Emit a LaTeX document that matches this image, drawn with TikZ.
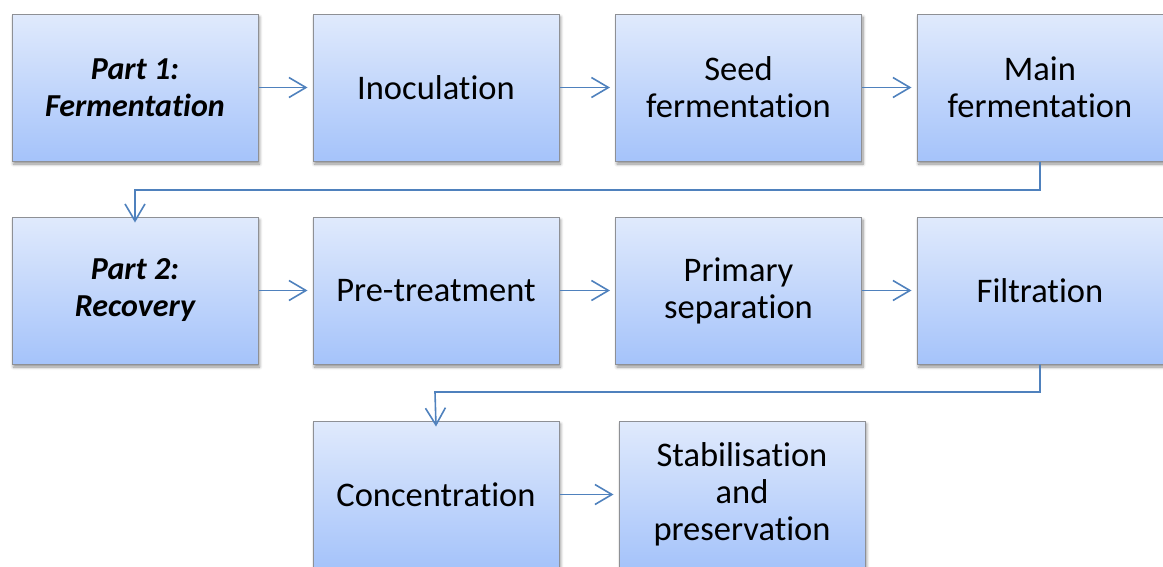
\documentclass[tikz,border=0pt]{standalone}
\usepackage{fontspec}
\setmainfont[RawFeature=-liga]{Carlito}
\usetikzlibrary{arrows.meta,shadows.blur}
\definecolor{boxtop}{HTML}{E0EAFC}
\definecolor{boxbot}{HTML}{A5C3FA}
\definecolor{boxline}{HTML}{8E9095}
\definecolor{arrowc}{HTML}{4F81BD}
\tikzset{
  stepbox/.style={draw=boxline, line width=1pt, top color=boxtop, bottom color=boxbot,
    minimum width=246pt, minimum height=147pt, inner sep=0pt, align=center,
    font=\fontsize{34.5pt}{37pt}\selectfont,
    blur shadow={shadow xshift=1.5pt, shadow yshift=-3pt, shadow blur steps=6, shadow blur radius=3pt, shadow opacity=45}},
  partbox/.style={stepbox, font=\fontsize{32pt}{37pt}\selectfont\bfseries\itshape},
  flow/.style={draw=arrowc, line width=1.6pt, -{Straight Barb[length=17pt, width=20pt, line width=1.6pt]}}
}
\begin{document}
\begin{tikzpicture}[x=1pt,y=-1pt]
\useasboundingbox (0,0) rectangle (1163,566);
\node[partbox] (p1) at (135,87.5) {Part 1:\\Fermentation};
\node[stepbox] (ino) at (436,87.5) {Inoculation};
\node[stepbox] (seed) at (738.5,87.5) {Seed\\fermentation};
\node[stepbox] (main) at (1040,87.5) {Main\\fermentation};
\node[partbox] (p2) at (135,290.5) {Part 2:\\Recovery};
\node[stepbox] (pre) at (436,290.5) {Pre-treatment};
\node[stepbox] (prim) at (738.5,290.5) {Primary\\separation};
\node[stepbox] (filt) at (1040,290.5) {Filtration};
\node[stepbox] (conc) at (436,494.5) {Concentration};
\node[stepbox] (stab) at (742,494.5) {Stabilisation\\and\\preservation};
\coordinate (c1) at (1040,190);
\coordinate (c2) at (135,190);
\coordinate (c3) at (1040,392);
\coordinate (c4) at (435,392);
\draw[flow] (p1.east) -- ([xshift=-5pt]ino.west);
\draw[flow] (ino.east) -- ([xshift=-5pt]seed.west);
\draw[flow] (seed.east) -- ([xshift=-5pt]main.west);
\draw[flow] (main.south) -- (c1) -- (c2) -- ([yshift=-6pt]p2.north);
\draw[flow] (p2.east) -- ([xshift=-5pt]pre.west);
\draw[flow] (pre.east) -- ([xshift=-5pt]prim.west);
\draw[flow] (prim.east) -- ([xshift=-5pt]filt.west);
\draw[flow] (filt.south) -- (c3) -- (c4) -- ([yshift=-6pt]conc.north);
\draw[flow] (conc.east) -- ([xshift=-5pt]stab.west);
\end{tikzpicture}
\end{document}
